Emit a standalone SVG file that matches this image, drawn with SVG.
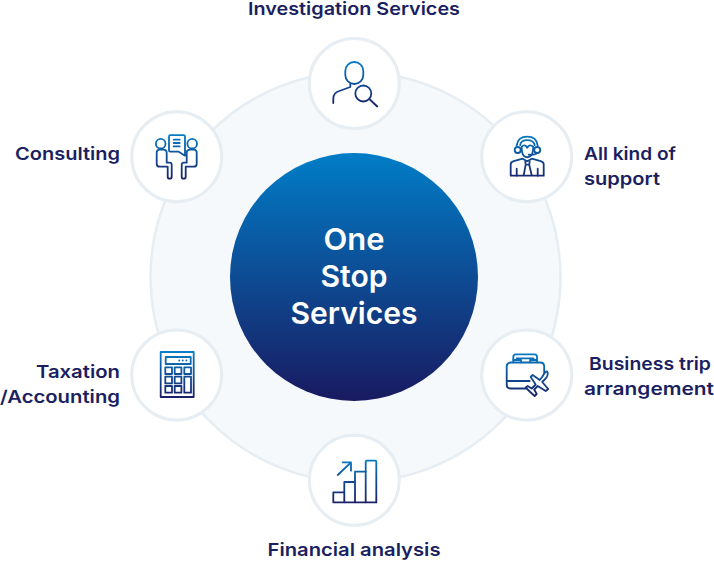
<svg xmlns="http://www.w3.org/2000/svg" width="714" height="561" viewBox="0 0 714 561">
  <style>
    .label { font-family: "Inter", "Liberation Sans", sans-serif; font-size: 17.5px; font-weight: 600; fill: #1b1f61; }
    .title { font-family: "Inter", "Liberation Sans", sans-serif; font-size: 30px; font-weight: 600; fill: #ffffff; text-anchor: middle; }
    .disc { fill: #ffffff; stroke: #e6edf3; stroke-width: 3; }
    .glyph { fill: none; stroke: url(#iconInk); stroke-width: 1.8; stroke-linecap: round; stroke-linejoin: round; }
    .glyph .solid { fill: #ffffff; }
  </style>
  <defs>
    <linearGradient id="coreFill" x1="0" y1="0" x2="0" y2="1">
      <stop offset="0" stop-color="#017dc7"/>
      <stop offset="1" stop-color="#191a60"/>
    </linearGradient>
    <linearGradient id="iconInk" gradientUnits="userSpaceOnUse" x1="0" y1="-24" x2="0" y2="23">
      <stop offset="0" stop-color="#0580c8"/>
      <stop offset="1" stop-color="#1b1f66"/>
    </linearGradient>
  </defs>

  <g id="ring">
    <circle cx="355.500" cy="277" r="205" fill="#f5f9fc" stroke="#e6edf3" stroke-width="2.500"/>
  </g>

  <g id="core">
    <circle cx="354" cy="277" r="124" fill="url(#coreFill)"/>
    <text class="title" x="354" y="250" textLength="61" lengthAdjust="spacingAndGlyphs">One</text>
    <text class="title" x="354" y="287" textLength="67" lengthAdjust="spacingAndGlyphs">Stop</text>
    <text class="title" x="354" y="324" textLength="127" lengthAdjust="spacingAndGlyphs">Services</text>
  </g>

  <g id="investigation">
    <circle class="disc" cx="354.300" cy="83.500" r="45"/>
    <g class="glyph" transform="translate(354.300 83.500)">
      <rect x="-9" y="-21.500" width="18" height="22" rx="9" ry="9"/>
      <path d="M-21 19.500V15Q-21 9.500 -15 7.500L-4 3.500V0.500"/>
      <circle cx="9" cy="10" r="8"/>
      <path d="M15 15.500L23 23"/>
    </g>
    <text class="label" x="354" y="15" text-anchor="middle" textLength="212" lengthAdjust="spacingAndGlyphs">Investigation Services</text>
  </g>

  <g id="support">
    <circle class="disc" cx="526.700" cy="156.700" r="45"/>
    <g class="glyph" transform="translate(526.700 156.700)">
      <path d="M-16 19V7.500Q-16 5.500 -13 4.500L-4 2L0.500 4.500L5 2L14 4.500Q17 5.500 17 7.500V19Z"/>
      <path d="M-1.500 4.500L-1 8L-3 18.500M3 4.500L2.500 8L5 18.500M-1 8H2.500M-10 12V19M11 12V19"/>
      <path d="M-5 -10Q-5 -3 -3 -1Q0.500 2 4 -1Q6.500 -3 6.500 -10Q3 -13 0.500 -9Q-2 -13 -5 -10Z"/>
      <path d="M-10 -11Q-9 -20 0.500 -20Q10 -20 11 -11M-6.500 -11.500Q-6 -16.500 0.500 -16.500Q7 -16.500 8 -11.500"/>
      <circle cx="-9" cy="-6.700" r="3"/>
      <circle cx="10.500" cy="-6.700" r="3"/>
      <path d="M10 -3.500Q9 -1.500 2 -2"/>
    </g>
    <text class="label" x="584" y="160" textLength="92" lengthAdjust="spacingAndGlyphs">All kind of</text>
    <text class="label" x="584" y="185" textLength="76" lengthAdjust="spacingAndGlyphs">support</text>
  </g>

  <g id="consulting">
    <circle class="disc" cx="176.700" cy="156.700" r="45"/>
    <g class="glyph" transform="translate(176.700 156.700)">
      <circle cx="-16" cy="-13" r="4.800"/>
      <circle cx="15.500" cy="-13" r="4.800"/>
      <path d="M-6.500 -21.500H7Q8.300 -21.500 8.300 -20V-1L2 -5H-6.500Q-7.700 -5 -7.700 -6.500V-20Q-7.700 -21.500 -6.500 -21.500Z"/>
      <path d="M-3 -17H3M-3 -13.700H3M-3 -10.300H3"/>
      <path d="M-20 -4Q-20 -7 -17 -7H-13.500Q-10 -7 -10 -4V6H-7Q-5 6 -5 8V20Q-5 22 -7 22Q-9 22 -9 20V10H-17Q-20 10 -20 7Z"/>
      <path d="M20 -4Q20 -7 17 -7H13.500Q10 -7 10 -4V6H7Q5 6 5 8V20Q5 22 7 22Q9 22 9 20V10H17Q20 10 20 7Z"/>
    </g>
    <text class="label" x="15" y="160" textLength="105" lengthAdjust="spacingAndGlyphs">Consulting</text>
  </g>

  <g id="taxation">
    <circle class="disc" cx="176.700" cy="375" r="45"/>
    <g class="glyph" transform="translate(176.700 375)">
      <rect x="-16" y="-23" width="33" height="45"/>
      <rect x="-11" y="-18" width="25" height="7"/>
      <path d="M2.500 -14.500H2.600M6 -14.500H6.100M9.600 -14.500H9.700"/>
      <rect x="-11.400" y="-7.700" width="6.700" height="6.700"/>
      <rect x="-2" y="-7.700" width="6.700" height="6.700"/>
      <rect x="7.600" y="-7.700" width="6.700" height="6.700"/>
      <rect x="-11.400" y="1.700" width="6.700" height="6.700"/>
      <rect x="-2" y="1.700" width="6.700" height="6.700"/>
      <rect x="7.600" y="1.700" width="6.700" height="16"/>
      <rect x="-11.400" y="11" width="6.700" height="6.700"/>
      <rect x="-2" y="11" width="6.700" height="6.700"/>
    </g>
    <text class="label" x="120" y="378" text-anchor="end" textLength="84" lengthAdjust="spacingAndGlyphs">Taxation</text>
    <text class="label" x="120" y="403" text-anchor="end" textLength="120" lengthAdjust="spacingAndGlyphs">/Accounting</text>
  </g>

  <g id="financial">
    <circle class="disc" cx="354.300" cy="480.300" r="45"/>
    <g class="glyph" transform="translate(354.300 480.300)">
      <path d="M-21 22V12H-10M-21 22H22"/>
      <path d="M-10 22V1.700H0.700V22"/>
      <path d="M0.700 1.700V-8.600H11.400V22"/>
      <path d="M11.400 -8.600V-18.500Q11.400 -19.600 12.500 -19.600H21Q22 -19.600 22 -18.500V22"/>
      <path d="M-16.600 -5.300L-3.300 -18M-11.600 -18H-3.300V-9.600"/>
    </g>
    <text class="label" x="354" y="556" text-anchor="middle" textLength="173" lengthAdjust="spacingAndGlyphs">Financial analysis</text>
  </g>

  <g id="business-trip">
    <circle class="disc" cx="526.700" cy="375" r="45"/>
    <g class="glyph" transform="translate(526.700 375)">
      <path d="M-13.400 -12.700V-18Q-13.400 -20.700 -11 -20.700H8Q10.300 -20.700 10.300 -18V-12.700"/>
      <path d="M-10 -15V-16.700H6.800V-15M-13.400 -15H-5.700V-12.700M10.300 -15H3.500V-12.700"/>
      <path d="M8 13.500H-16Q-20 13.500 -20 9.500V-8.500Q-20 -12.500 -16 -12.500H13.500Q17.500 -12.500 17.500 -8.500V1"/>
      <path d="M-20 6H3"/>
      <path class="solid" d="M20.500 -3.500Q22.500 0 18 4.500L15.500 7L21.500 14L19 16L11 11L7.500 14.500L10 19L8 21L3.500 17L-1 12.500L1 11L5 13.500L9 9.500L4 2L6 0L13 5L15.500 2Q19 -4.500 20.500 -3.500Z"/>
    </g>
    <text class="label" x="650" y="370" text-anchor="middle" textLength="122" lengthAdjust="spacingAndGlyphs">Business trip</text>
    <text class="label" x="649" y="395" text-anchor="middle" textLength="130" lengthAdjust="spacingAndGlyphs">arrangement</text>
  </g>
</svg>
